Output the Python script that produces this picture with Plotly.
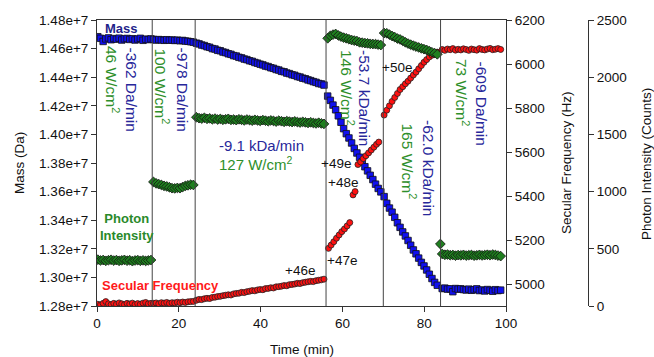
import plotly.graph_objects as go

# ---------------- data ----------------
tA = [0.2, 0.85, 1.5, 2.15, 2.8, 3.45, 4.1, 4.75, 5.4, 6.05, 6.7, 7.35, 8.0, 8.65, 9.3, 9.95, 10.6, 11.25, 11.9, 12.55, 13.2]
tB = [13.8, 14.45, 15.1, 15.75, 16.4, 17.05, 17.7, 18.35, 19.0, 19.65, 20.3, 20.95, 21.6, 22.25, 22.9, 23.55]
tC = [24.3, 24.95, 25.6, 26.25, 26.9, 27.55, 28.2, 28.85, 29.5, 30.15, 30.8, 31.45, 32.1, 32.75, 33.4, 34.05, 34.7,
      35.35, 36.0, 36.65, 37.3, 37.95, 38.6, 39.25, 39.9, 40.55, 41.2, 41.85, 42.5, 43.15, 43.8, 44.45, 45.1, 45.75,
      46.4, 47.05, 47.7, 48.35, 49.0, 49.65, 50.3, 50.95, 51.6, 52.25, 52.9, 53.55, 54.2, 54.85, 55.5]
tD = [56.4, 57.05, 57.7, 58.35, 59.0, 59.65, 60.3, 60.95, 61.6, 62.25, 62.9, 63.55, 64.2, 64.85, 65.5, 66.15, 66.8,
      67.45, 68.1, 68.75, 69.4]
tE = [70.2, 70.85, 71.5, 72.15, 72.8, 73.45, 74.1, 74.75, 75.4, 76.05, 76.7, 77.35, 78.0, 78.65, 79.3, 79.95, 80.6,
      81.25, 81.9, 82.55, 83.2]
tF = [84.4, 85.05, 85.7, 86.35, 87.0, 87.65, 88.3, 88.95, 89.6, 90.25, 90.9, 91.55, 92.2, 92.85, 93.5, 94.15, 94.8,
      95.45, 96.1, 96.75, 97.4, 98.05, 98.7]

# Mass (kDa)
mass_A = [14683, 14672, 14650, 14668, 14675, 14662, 14670, 14666, 14673, 14660, 14668, 14671, 14664, 14669, 14660,
          14667, 14672, 14658, 14666, 14663, 14668]
mass_B = [14664, 14660, 14663, 14661, 14658, 14662, 14659, 14660, 14657, 14659, 14655, 14657, 14653, 14651, 14648, 14645]
mass_C = [14638, 14633, 14625, 14621, 14613, 14609, 14600, 14597, 14588, 14585, 14576, 14572, 14564, 14560, 14551,
          14548, 14539, 14535, 14527, 14523, 14515, 14511, 14503, 14498, 14491, 14486, 14478, 14474, 14466, 14462,
          14454, 14450, 14441, 14438, 14429, 14425, 14417, 14413, 14405, 14401, 14393, 14389, 14381, 14376, 14369,
          14364, 14356, 14353, 14345]
mass_D = [14268, 14238, 14205, 14172, 14130, 14085, 14040, 14005, 13975, 13940, 13902, 13870, 13840, 13808, 13774,
          13745, 13714, 13684, 13652, 13622, 13598]
mass_E = [13565, 13518, 13485, 13456, 13420, 13382, 13350, 13318, 13290, 13258, 13225, 13192, 13165, 13135, 13105,
          13080, 13052, 13022, 12992, 12965, 12945]
mass_F = [12922, 12925, 12918, 12920, 12900, 12922, 12918, 12920, 12915, 12912, 12918, 12910, 12914, 12920, 12908,
          12912, 12905, 12915, 12910, 12903, 12914, 12908, 12911]

# Photon intensity (counts)
phot_A = [405, 398, 402, 395, 400, 404, 397, 401, 395, 399, 403, 396, 400, 392, 398, 401, 395, 399, 394, 398, 402]
phot_B = [1085, 1072, 1065, 1058, 1050, 1045, 1038, 1030, 1028, 1032, 1030, 1040, 1050, 1055, 1060, 1058]
phot_C = [1650, 1642, 1638, 1645, 1636, 1640, 1632, 1638, 1630, 1635, 1628, 1632, 1636, 1627, 1630, 1625, 1632,
          1628, 1622, 1630, 1625, 1620, 1627, 1622, 1618, 1625, 1620, 1615, 1622, 1618, 1612, 1620, 1615, 1610,
          1616, 1612, 1608, 1614, 1608, 1604, 1610, 1605, 1600, 1606, 1600, 1596, 1602, 1596, 1592]
phot_D = [2340, 2362, 2372, 2378, 2365, 2355, 2346, 2340, 2332, 2325, 2320, 2316, 2305, 2302, 2298, 2296, 2292,
          2290, 2289, 2285, 2281]
phot_E = [2386, 2384, 2372, 2360, 2350, 2338, 2330, 2318, 2305, 2294, 2284, 2276, 2268, 2260, 2252, 2245, 2238,
          2228, 2218, 2210, 2200]
t_phot_spike = [83.95]
phot_spike = [542]
phot_F = [455, 448, 450, 444, 446, 440, 445, 443, 447, 441, 444, 446, 440, 443, 447, 442, 445, 448, 444, 450, 446,
          441, 436]

# Secular frequency (Hz)
freq_A = [4908, 4905, 4912, 4920, 4910, 4906, 4912, 4908, 4914, 4910, 4906, 4912, 4909, 4913, 4907, 4911, 4908,
          4913, 4916, 4910, 4912]
freq_B = [4912, 4914, 4910, 4915, 4913, 4916, 4912, 4915, 4914, 4917, 4915, 4918, 4916, 4919, 4920, 4921]
freq_C = [4926, 4930, 4929, 4933, 4935, 4934, 4939, 4940, 4943, 4944, 4947, 4949, 4951, 4950, 4955, 4957, 4958,
          4962, 4961, 4965, 4967, 4970, 4969, 4973, 4975, 4974, 4979, 4980, 4983, 4982, 4987, 4988, 4990, 4993,
          4992, 4997, 4998, 5000, 5003, 5002, 5006, 5008, 5010, 5012, 5011, 5015, 5017, 5019, 5022]
t_freq_D1 = [56.6, 57.25, 57.9, 58.55, 59.2, 59.85, 60.5, 61.15, 61.8]
freq_D1 = [5162, 5177, 5192, 5208, 5223, 5238, 5250, 5264, 5279]
t_freq_D2 = [62.6, 63.1]
freq_D2 = [5405, 5420]
t_freq_D3 = [63.8, 64.45, 65.1, 65.75, 66.4, 67.05, 67.7, 68.35, 68.9]
freq_D3 = [5543, 5555, 5570, 5583, 5596, 5609, 5622, 5635, 5645]
freq_E = [5768, 5790, 5810, 5830, 5848, 5866, 5884, 5897, 5910, 5922, 5936, 5950, 5963, 5978, 5993, 6008, 6020,
          6032, 6040, 6046, 6054]
freq_F = [6066, 6062, 6068, 6065, 6070, 6063, 6067, 6064, 6069, 6066, 6062, 6068, 6065, 6063, 6070, 6066, 6064,
          6068, 6071, 6065, 6067, 6070, 6066]

# Boundaries between laser-power steps (min)
step_times = [13.5, 24.0, 56.0, 70.0, 84.0]

# ---------------- assemble series ----------------
for t, v in [(tA, mass_A), (tB, mass_B), (tC, mass_C), (tD, mass_D), (tE, mass_E), (tF, mass_F),
             (tA, phot_A), (tB, phot_B), (tC, phot_C), (tD, phot_D), (tE, phot_E), (tF, phot_F),
             (tA, freq_A), (tB, freq_B), (tC, freq_C), (tE, freq_E), (tF, freq_F)]:
    assert len(t) == len(v), (len(t), len(v))

t_mass = tA + tB + tC + tD + tE + tF
mass = [m * 1000 for m in (mass_A + mass_B + mass_C + mass_D + mass_E + mass_F)]
t_phot = tA + tB + tC + tD + tE + t_phot_spike + tF
phot = phot_A + phot_B + phot_C + phot_D + phot_E + phot_spike + phot_F
t_freq = tA + tB + tC + t_freq_D1 + t_freq_D2 + t_freq_D3 + tE + tF
freq = freq_A + freq_B + freq_C + freq_D1 + freq_D2 + freq_D3 + freq_E + freq_F

FONT = "Liberation Sans, Arial, sans-serif"
BLUE_TXT = "#27279a"
GREEN_TXT = "#2e8f2a"
AX = "#333333"

ML, MR, MT, MB = 97, 30, 20, 51
PLOT_W = 654 - ML - MR
PLOT_H = 357 - MT - MB

fig = go.Figure()
fig.add_trace(go.Scatter(x=t_mass, y=mass, mode="markers", yaxis="y",
                         marker=dict(symbol="square", size=6.5, color="#1010f0",
                                     line=dict(color="#111111", width=0.8)), showlegend=False))
fig.add_trace(go.Scatter(x=t_phot, y=phot, mode="markers", yaxis="y3",
                         marker=dict(symbol="diamond", size=7.5, color="#1f7f1f",
                                     line=dict(color="#111111", width=0.8)), showlegend=False))
fig.add_trace(go.Scatter(x=t_freq, y=freq, mode="markers", yaxis="y2",
                         marker=dict(symbol="circle", size=6, color="#ff1010",
                                     line=dict(color="#222222", width=0.8)), showlegend=False))

for s in step_times:
    fig.add_shape(type="line", x0=s, x1=s, y0=0, y1=1, xref="x", yref="paper",
                  line=dict(color="#444444", width=1))

# annotation helpers: pixel -> paper fraction
def px_x(px):
    return (px - ML) / PLOT_W

def px_y(py):
    return (357 - MB - py) / PLOT_H

def note(px, py, text, color, size=15.5, angle=0, bold=False, xanchor="center"):
    fig.add_annotation(x=px_x(px), y=px_y(py), xref="paper", yref="paper",
                       text=("<b>%s</b>" % text) if bold else text,
                       showarrow=False, textangle=angle, xanchor=xanchor, yanchor="middle",
                       font=dict(family=FONT, size=size, color=color))

note(103, 28, "Mass", "#1f1f8a", size=13, bold=True, xanchor="left")
note(112, 79, "46 W/cm<sup>2</sup>", GREEN_TXT, angle=90)
note(131.5, 89, "-362 Da/min", BLUE_TXT, angle=90)
note(161.5, 86, "100 W/cm<sup>2</sup>", GREEN_TXT, angle=90)
note(182.5, 89, "-978 Da/min", BLUE_TXT, angle=90)
note(217, 145, "-9.1 kDa/min", BLUE_TXT, size=15, xanchor="left")
note(217, 163.5, "127 W/cm<sup>2</sup>", GREEN_TXT, size=15, xanchor="left")
note(347, 88, "146 W/cm<sup>2</sup>", GREEN_TXT, angle=90)
note(365, 98, "-53.7 kDa/min", BLUE_TXT, angle=90)
note(408.5, 161, "165 W/cm<sup>2</sup>", GREEN_TXT, angle=90)
note(429, 168, "-62.0 kDa/min", BLUE_TXT, angle=90)
note(462, 92, "73 W/cm<sup>2</sup>", GREEN_TXT, angle=90)
note(481.5, 103, "-609 Da/min", BLUE_TXT, angle=90)
note(397, 67, "+50e", "#111111", size=13.5)
note(336, 163, "+49e", "#111111", size=13.5)
note(342.5, 182, "+48e", "#111111", size=13.5)
note(342, 260.5, "+47e", "#111111", size=13.5)
note(300, 270.5, "+46e", "#111111", size=13.5)
note(98, 227, "Photon<br>Intensity", "#2a8a2a", size=13, bold=True, xanchor="left")
note(100, 285, "Secular Frequency", "#ff1a1a", size=13, bold=True, xanchor="left")

# axis titles placed as annotations at their exact positions
note(19, 163, "Mass (Da)", "#111111", size=13.5, angle=-90)
note(301.5, 349, "Time (min)", "#111111", size=13.5)
note(566, 163, "Secular Frequency (Hz)", "#111111", size=13.5, angle=-90)
note(646, 164, "Photon Intensity (Counts)", "#111111", size=13.5, angle=-90)

x_end = (506 - ML) / PLOT_W
y3_pos = (588 - ML) / PLOT_W

tickfont = dict(family=FONT, size=13.5, color="#111111")
common = dict(showgrid=False, zeroline=False, showline=True, linecolor=AX, linewidth=1, ticks="outside",
              ticklen=5, tickcolor=AX, tickfont=tickfont, automargin=False)

fig.update_layout(
    width=654, height=357,
    margin=dict(l=ML, r=MR, t=MT, b=MB, pad=0),
    paper_bgcolor="white", plot_bgcolor="white",
    font=dict(family=FONT, size=13.5, color="#111111"),
    xaxis=dict(domain=[0, x_end], range=[0, 100], dtick=20, mirror=True, **common),
    yaxis=dict(range=[1.28e7, 1.48e7], dtick=2e5, tickformat=".2e", **common),
    yaxis2=dict(overlaying="y", side="right", anchor="x", range=[4900, 6200], tick0=5000, dtick=200, **common),
    yaxis3=dict(overlaying="y", side="right", anchor="free", position=y3_pos, range=[0, 2500], dtick=500,
                **common),
)

fig.write_html("out.html")
